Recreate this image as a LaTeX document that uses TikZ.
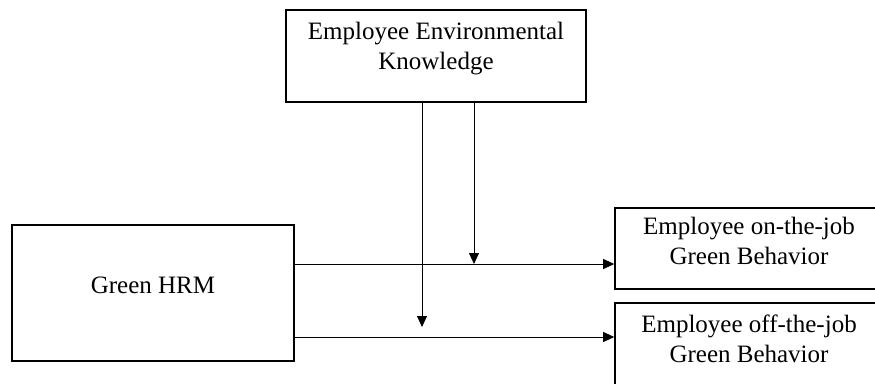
\documentclass[tikz,border=0pt]{standalone}
\usepackage{fontspec}
\setmainfont{Liberation Serif}
\usepackage{tikz}
\usetikzlibrary{arrows.meta,positioning}

\begin{document}
\begin{tikzpicture}
[x=1pt,y=-1pt]
\tikzset{
	box/.style = {draw, line width = 1.6pt, align = center, inner sep = 0pt, font = \fontsize{25}{30}\selectfont},
	arr/.style = {line width = 0.8pt, -{Triangle[length = 11pt, width = 10pt]}}
}
\useasboundingbox (0,0) rectangle (875,383);
\clip (0,0) rectangle (875,383);

\node(know) [box, minimum width = 300pt, minimum height = 92pt, text depth = 19.5pt] at (436,56) {Employee Environmental\\Knowledge};
\node(hrm) [box, minimum width = 282pt, minimum height = 136pt, text depth = 16pt] at (153,293) {Green HRM};
\node(onjob) [box, minimum width = 268pt, minimum height = 81pt, text depth = 15pt] at (749,248.5) {Employee on-the-job\\Green Behavior};
\node(offjob) [box, minimum width = 268pt, minimum height = 90pt, text depth = 18.5pt] at (749,348) {Employee off-the-job\\Green Behavior};

\coordinate (m1) at (474,264);
\coordinate (m2) at (422,327);

\draw [arr] (hrm.east |- m1) to (onjob.west |- m1);
\draw [arr] (hrm.east |- 0,337) to (offjob.west |- 0,337);

\draw [arr] (know.south -| m1) to (m1);
\draw [arr] (know.south -| m2) to (m2);

\end{tikzpicture}
\end{document}
